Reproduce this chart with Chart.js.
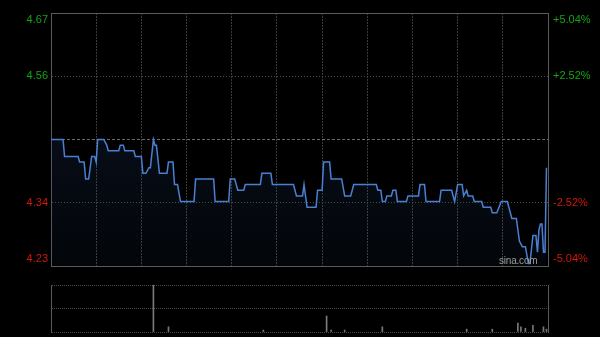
<!DOCTYPE html>
<html><head><meta charset="utf-8">
<script src="https://cdn.jsdelivr.net/npm/chart.js@4.4.0/dist/chart.umd.min.js"></script>
<style>
html,body{margin:0;padding:0;background:#000;width:600px;height:337px;overflow:hidden}
#wrap{position:relative;width:600px;height:337px;background:#000}
canvas{position:absolute;left:0;top:0}
#wm{position:absolute;left:499px;top:255px;font:10px Arial,"Liberation Sans",sans-serif;color:#9c9c9c;letter-spacing:-0.2px}
</style></head>
<body><div id="wrap"><canvas id="p" width="600" height="337"></canvas><canvas id="v" width="600" height="337"></canvas><div id="wm">sina.com</div></div>
<script>
// Previous close and percent band
const prevClose = 4.45;
const bandPct = [-5.04, -2.52, 0, 2.52, 5.04];
// Time axis: minutes since 09:30 (HK session, 330 trading minutes), gridline every 30 min
const xTicks = [0,30,60,90,120,150,180,210,240,270,300,330];
// Price path (minute, price)
const minutes = [0,8, 9,18, 19,22, 23,25, 27,29, 30, 31,35, 37, 38,45, 46,48, 49,55, 56,60, 61,63, 65,66, 68, 69,70, 72,77, 78,81, 82,84, 86,95, 96,108, 109,118, 119,122, 124,128, 129,139, 140,146, 147,161, 163,167, 168, 170,176, 177,180, 181,185, 186,193, 195,199, 201,216, 217,219, 220,222, 223,226, 227,229, 230,236, 237,244, 245,248, 249,258, 259,266, 268, 270,273, 274, 276, 277,280, 281,286, 287,292, 293,296, 299,303, 306,309, 311, 313,315, 317,318, 320,322, 323, 324, 325,326, 327,328, 329];
const prices  = [4.45,4.45, 4.42,4.42, 4.41,4.41, 4.38,4.38, 4.42,4.42, 4.41, 4.45,4.45, 4.44, 4.43,4.43, 4.44,4.44, 4.43,4.43, 4.42,4.42, 4.39,4.39, 4.40,4.40, 4.45, 4.44,4.44, 4.39,4.39, 4.41,4.41, 4.37,4.37, 4.34,4.34, 4.38,4.38, 4.34,4.34, 4.38,4.38, 4.36,4.36, 4.37,4.37, 4.39,4.39, 4.37,4.37, 4.35,4.35, 4.37, 4.33,4.33, 4.36,4.36, 4.41,4.41, 4.38,4.38, 4.35,4.35, 4.37,4.37, 4.36,4.36, 4.34,4.34, 4.35,4.35, 4.36,4.36, 4.34,4.34, 4.35,4.35, 4.37,4.37, 4.34,4.34, 4.36,4.36, 4.34, 4.37,4.37, 4.35, 4.36, 4.35,4.35, 4.34,4.34, 4.33,4.33, 4.32,4.32, 4.34,4.34, 4.31,4.31, 4.27, 4.26,4.26, 4.23,4.23, 4.28,4.28, 4.25, 4.29, 4.30,4.30, 4.25,4.25, 4.40];
// Volume bars (minute, relative volume; panel max = 100)
const volMinutes = [68, 78, 141, 183, 186, 195, 220, 276, 293, 310, 312, 315, 320, 327, 329];
const volValues  = [100, 11, 4, 34, 4, 4, 11, 6, 6, 19, 11, 8, 14, 11, 6];
const volTicks = [0, 50, 100];

const yMin = prevClose*(1+bandPct[0]/100), yMax = prevClose*(1+bandPct[4]/100);
const yTickVals = bandPct.map(p => prevClose*(1+p/100));
const FONT = {family:'Arial, "Liberation Sans", sans-serif', size:11};
const GREEN = '#17a317', RED = '#d0180c', BORDER = '#5a5a5a', GRID = '#3c3c3c';

function edgeLabel(idx, txt){
  if (idx === 2) return '';
  if (idx === 4) return ['', txt];
  if (idx === 0) return [txt, ''];
  return txt;
}
function noPad(s){ s.paddingTop = 0; s.paddingBottom = 0; }

new Chart(document.getElementById('p'), {
  type: 'line',
  data: {datasets: [{
    data: minutes.map((m,i) => ({x:m, y:prices[i]})),
    borderColor: '#4a80d2', borderWidth: 1.5, pointRadius: 0, tension: 0,
    fill: 'start',
    backgroundColor: ctx => {
      const a = ctx.chart.chartArea; if (!a) return 'rgba(0,0,0,0)';
      const g = ctx.chart.ctx.createLinearGradient(0, a.top, 0, a.bottom);
      g.addColorStop(0, 'rgba(35,65,115,0.32)');
      g.addColorStop(1, 'rgba(35,65,115,0.08)');
      return g;
    }
  }]},
  options: {
    responsive:false, animation:false, devicePixelRatio:1,
    layout:{padding:{top:13, bottom:71, left:0, right:0}},
    plugins:{legend:{display:false}, tooltip:{enabled:false}},
    scales:{
      x:{type:'linear', min:0, max:330,
        afterBuildTicks: s => { s.ticks = xTicks.map(v => ({value:v})); },
        afterFit: s => { s.height = 0; s.paddingLeft = 0; s.paddingRight = 0; },
        ticks:{display:false},
        grid:{drawTicks:false, lineWidth:1,
          color: c => (c.tick && (c.tick.value===0 || c.tick.value===330)) ? BORDER : GRID},
        border:{display:true, color:BORDER,
          dash: c => (c.tick && c.tick.value!==0 && c.tick.value!==330) ? [2,1] : []}
      },
      y:{position:'left', min:yMin, max:yMax,
        afterBuildTicks: s => { s.ticks = yTickVals.map(v => ({value:v})); },
        afterFit: s => { s.width = 51; noPad(s); },
        ticks:{autoSkip:false, padding:3, font:FONT,
          color: c => c.index >= 3 ? GREEN : RED,
          callback: (v, i) => edgeLabel(i, v.toFixed(2))},
        grid:{drawTicks:false, lineWidth:1,
          color: c => (c.index===0 || c.index===4) ? BORDER : (c.index===2 ? '#6a6a6a' : '#4a4a4a')},
        border:{display:true, color:BORDER,
          dash: c => !c.tick ? [] : ((c.index===0 || c.index===4) ? [] : (c.index===2 ? [3,2] : [1,2]))}
      },
      y2:{position:'right', min:yMin, max:yMax,
        afterBuildTicks: s => { s.ticks = yTickVals.map(v => ({value:v})); },
        afterFit: s => { s.width = 52; noPad(s); },
        ticks:{autoSkip:false, padding:5, font:FONT,
          color: c => c.index >= 3 ? GREEN : RED,
          callback: (v, i) => {
            const p = bandPct[i];
            return edgeLabel(i, (p > 0 ? '+' : '') + p.toFixed(2) + '%');
          }},
        grid:{display:false, drawTicks:false},
        border:{display:true, color:BORDER}
      }
    }
  }
});

new Chart(document.getElementById('v'), {
  type: 'bar',
  data: {datasets: [{
    data: volMinutes.map((m,i) => ({x:m, y:volValues[i]})),
    backgroundColor: '#7a7a7a', barThickness: 1, borderWidth: 0
  }]},
  options: {
    responsive:false, animation:false, devicePixelRatio:1,
    layout:{padding:{top:285, bottom:5, left:0, right:0}},
    plugins:{legend:{display:false}, tooltip:{enabled:false}},
    scales:{
      x:{type:'linear', min:0, max:330, offset:false,
        afterFit: s => { s.height = 0; s.paddingLeft = 0; s.paddingRight = 0; },
        ticks:{display:false}, grid:{display:false, drawTicks:false},
        border:{display:false}},
      y:{position:'left', min:0, max:100,
        afterBuildTicks: s => { s.ticks = volTicks.map(v => ({value:v})); },
        afterFit: s => { s.width = 51; noPad(s); },
        ticks:{display:false},
        grid:{drawTicks:false, color:'#4a4a4a', lineWidth:1},
        border:{display:true, color:BORDER, dash: c => c.tick ? [1,1] : []}},
      y2:{position:'right', min:0, max:100,
        afterFit: s => { s.width = 52; noPad(s); },
        ticks:{display:false}, grid:{display:false, drawTicks:false},
        border:{display:true, color:BORDER}}
    }
  }
});
</script>
</body></html>
